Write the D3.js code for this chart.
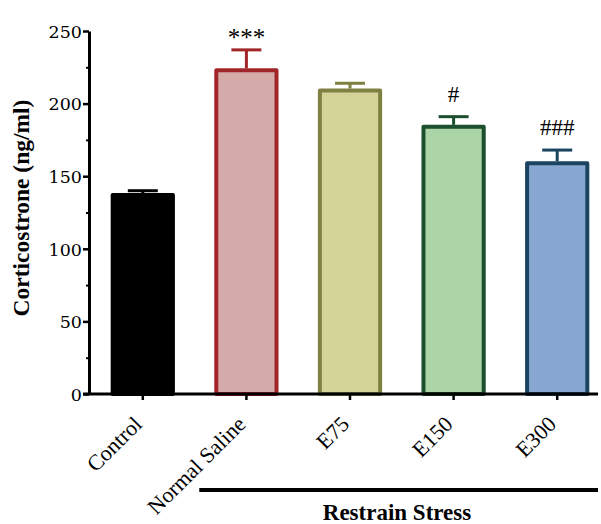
<!DOCTYPE html>
<html>
<head>
<meta charset="utf-8">
<script src="https://cdn.jsdelivr.net/npm/d3@7"></script>
<style>
  body { margin: 0; background: #fff; }
  text { font-family: "Liberation Serif", serif; }
</style>
</head>
<body>
<div id="chart"></div>
<script>
// Data
var groups = ["Control", "Normal Saline", "E75", "E150", "E300"];
var means = [137, 223, 209, 184, 159];
var errs = [3, 14, 5, 7, 9];
var marks = ["", "***", "", "#", "###"];
var yTicks = [0, 50, 100, 150, 200, 250];
var yMinor = [25, 75, 125, 175, 225];
var fills = ["#000000", "#d5abaa", "#d4d398", "#acd5a7", "#88a8d3"];
var strokes = ["#000000", "#a2252a", "#7f8142", "#1c4f2d", "#1b4461"];

var W = 601, H = 524;
var svg = d3.select("#chart").append("svg")
    .attr("width", W).attr("height", H);

// scales
var x = d3.scaleBand().domain(groups).range([91, 609])
    .paddingInner(0.38).paddingOuter(0.19);
var y = d3.scaleLinear().domain([0, 250]).range([394, 31]);

// bars
var bars = svg.selectAll("g.bar").data(groups).enter().append("g").attr("class", "bar");
bars.append("rect")
    .attr("x", function(d) { return x(d) + 2; })
    .attr("width", x.bandwidth() - 4)
    .attr("y", function(d, i) { return y(means[i]); })
    .attr("height", function(d, i) { return y(0) - y(means[i]); })
    .style("fill", function(d, i) { return fills[i]; })
    .style("stroke", function(d, i) { return strokes[i]; })
    .style("stroke-width", 4)
    .style("stroke-linejoin", "round");

// error bars (upper only)
bars.append("line")
    .attr("x1", function(d) { return x(d) + x.bandwidth() / 2; })
    .attr("x2", function(d) { return x(d) + x.bandwidth() / 2; })
    .attr("y1", function(d, i) { return y(means[i]) - 2; })
    .attr("y2", function(d, i) { return y(means[i] + errs[i]); })
    .style("stroke", function(d, i) { return strokes[i]; })
    .style("stroke-width", 3);
bars.append("line")
    .attr("x1", function(d) { return x(d) + x.bandwidth() / 2 - 15; })
    .attr("x2", function(d) { return x(d) + x.bandwidth() / 2 + 15; })
    .attr("y1", function(d, i) { return y(means[i] + errs[i]); })
    .attr("y2", function(d, i) { return y(means[i] + errs[i]); })
    .style("stroke", function(d, i) { return strokes[i]; })
    .style("stroke-width", 3);

// significance marks (asterisks sit high in the em box, hashes don't)
bars.append("text")
    .attr("x", function(d) { return x(d) + x.bandwidth() / 2; })
    .attr("y", function(d, i) {
        var off = marks[i].charAt(0) == "*" ? 4 : 15;
        return y(means[i] + errs[i]) - off;
    })
    .attr("text-anchor", "middle")
    .style("font-size", function(d, i) { return marks[i].charAt(0) == "*" ? "25px" : "23px"; })
    .text(function(d, i) { return marks[i]; });

// y axis
var yAxis = svg.append("g").attr("class", "y axis")
    .attr("transform", "translate(89,0)")
    .call(d3.axisLeft(y).tickValues(yTicks).tickSize(6).tickPadding(1).tickSizeOuter(0));
yAxis.selectAll("text")
    .style("font-family", "'DejaVu Serif', serif")
    .style("font-size", "17.5px").attr("dy", "0.36em").style("fill", "#000");
yAxis.select(".domain").style("stroke-width", 3);
yAxis.selectAll(".tick line").style("stroke-width", 2.5);
svg.append("g").attr("transform", "translate(89,0)")
    .call(d3.axisLeft(y).tickValues(yMinor).tickSize(3).tickFormat("").tickSizeOuter(0))
    .call(function(g) { g.select(".domain").remove(); })
    .selectAll(".tick line").style("stroke-width", 2);

// x axis
var xAxis = svg.append("g").attr("class", "x axis")
    .attr("transform", "translate(0,394)")
    .call(d3.axisBottom(x).tickSize(6).tickSizeOuter(0));
xAxis.select(".domain").attr("d", "M83,0H598").style("stroke-width", 3);
xAxis.selectAll(".tick line").style("stroke-width", 2.5);
xAxis.selectAll("text")
    .style("font-size", "22px")
    .style("fill", "#000")
    .style("text-anchor", "end")
    .attr("dx", "-1.0em")
    .attr("dy", "0.62em")
    .attr("transform", "rotate(-45)");

// y title
svg.append("text")
    .attr("transform", "translate(29,208) rotate(-90)")
    .attr("text-anchor", "middle")
    .style("font-size", "23.5px")
    .style("font-weight", "bold")
    .text("Corticostrone (ng/ml)");

// restrain stress bracket
svg.append("line")
    .attr("x1", x("Normal Saline") - 15).attr("x2", 598)
    .attr("y1", 490).attr("y2", 490)
    .style("stroke", "#000").style("stroke-width", 4);
svg.append("text")
    .attr("x", 397).attr("y", 520)
    .attr("text-anchor", "middle")
    .style("font-size", "23px")
    .style("font-weight", "bold")
    .text("Restrain Stress");
</script>
</body>
</html>
